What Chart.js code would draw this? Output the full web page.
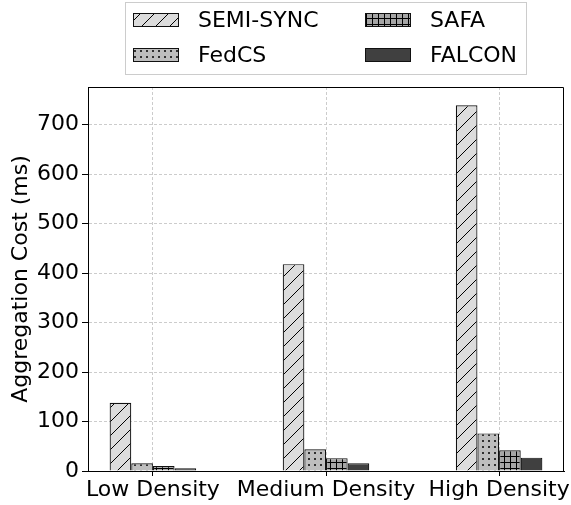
<!DOCTYPE html>
<html lang="en">
<head>
    <meta charset="UTF-8">
    <title>Aggregation Cost</title>
    <script src="https://cdn.jsdelivr.net/npm/chart.js"></script>
    <style>
        body { margin: 0; background: #fff; }
    </style>
</head>
<body>
    <canvas id="chart" width="571" height="505"></canvas>
    <script>
        const categories = ['Low Density', 'Medium Density', 'High Density'];
        const seriesNames = ['SEMI-SYNC', 'FedCS', 'SAFA', 'FALCON'];
        const semiSync = [138, 418, 739];
        const fedCS = [15.5, 44, 76];
        const safa = [10, 26, 42];
        const falcon = [5.5, 15.5, 27];
        const yTicks = [0, 100, 200, 300, 400, 500, 600, 700];

        const FONT = "'DejaVu Sans', sans-serif";
        const FSIZE = 22;

        function makePattern(kind, bg) {
            const size = kind === 'diag' ? 14 : 6;
            const c = document.createElement('canvas');
            c.width = size;
            c.height = size;
            const g = c.getContext('2d');
            g.fillStyle = bg;
            g.fillRect(0, 0, size, size);
            g.strokeStyle = '#000';
            g.fillStyle = '#000';
            g.lineWidth = 1;
            if (kind === 'diag') {
                g.beginPath();
                g.moveTo(0, size); g.lineTo(size, 0);
                g.moveTo(-2, 2); g.lineTo(2, -2);
                g.moveTo(size - 2, size + 2); g.lineTo(size + 2, size - 2);
                g.stroke();
            } else if (kind === 'dots') {
                g.beginPath();
                g.arc(3, 3, 1, 0, Math.PI * 2);
                g.fill();
            } else if (kind === 'grid') {
                g.beginPath();
                g.moveTo(0, 0.5); g.lineTo(size, 0.5);
                g.moveTo(0.5, 0); g.lineTo(0.5, size);
                g.stroke();
            }
            return document.getElementById('chart').getContext('2d').createPattern(c, 'repeat');
        }

        const fills = [
            makePattern('diag', '#dcdcdc'),
            makePattern('dots', '#bebebe'),
            makePattern('grid', '#a6a6a6'),
            '#404040'
        ];
        const allValues = [semiSync, fedCS, safa, falcon];

        const datasets = allValues.map((vals, k) => ({
            label: seriesNames[k],
            data: vals.map((v, i) => ({ x: i, y: v })),
            backgroundColor: fills[k],
            borderColor: '#111',
            borderWidth: 1.2,
            categoryPercentage: 0.5,
            barPercentage: 1.0
        }));

        // top and right spines
        const framePlugin = {
            id: 'frame',
            afterDatasetsDraw(chart) {
                const a = chart.chartArea;
                const ctx = chart.ctx;
                ctx.save();
                ctx.strokeStyle = '#000';
                ctx.lineWidth = 1;
                ctx.beginPath();
                ctx.moveTo(a.left, a.top + 0.5);
                ctx.lineTo(a.right - 0.5, a.top + 0.5);
                ctx.lineTo(a.right - 0.5, a.bottom);
                ctx.stroke();
                ctx.restore();
            }
        };

        // two-column legend, filled column by column
        const legendPlugin = {
            id: 'boxLegend',
            afterDraw(chart) {
                const ctx = chart.ctx;
                ctx.save();
                ctx.fillStyle = '#fff';
                ctx.strokeStyle = '#cccccc';
                ctx.lineWidth = 1;
                ctx.fillRect(125.5, 2.5, 401, 72);
                ctx.strokeRect(125.5, 2.5, 401, 72);
                const cols = [133, 365];
                const rows = [20, 55];
                chart.data.datasets.forEach((ds, k) => {
                    const x = cols[Math.floor(k / 2)];
                    const y = rows[k % 2];
                    ctx.fillStyle = ds.backgroundColor;
                    ctx.fillRect(x, y - 7, 46, 14);
                    ctx.strokeStyle = '#111';
                    ctx.strokeRect(x + 0.5, y - 6.5, 45, 13);
                    ctx.fillStyle = '#000';
                    ctx.font = FSIZE + 'px ' + FONT;
                    ctx.textBaseline = 'middle';
                    ctx.fillText(ds.label, x + 65, y + 1);
                });
                ctx.restore();
            }
        };

        new Chart(document.getElementById('chart'), {
            type: 'bar',
            data: { datasets: datasets },
            options: {
                responsive: false,
                animation: false,
                layout: { padding: { top: 87, right: 7, left: 0, bottom: 0 } },
                plugins: {
                    legend: { display: false },
                    tooltip: { enabled: false }
                },
                scales: {
                    x: {
                        type: 'linear',
                        min: -0.375,
                        max: 2.375,
                        offset: false,
                        afterBuildTicks(scale) {
                            scale.ticks = categories.map((c, i) => ({ value: i }));
                        },
                        afterFit(scale) {
                            scale.height = 34;
                            scale.paddingLeft = 0;
                            scale.paddingRight = 0;
                        },
                        ticks: {
                            callback: (v) => categories[v],
                            color: '#000',
                            font: { family: FONT, size: FSIZE },
                            padding: 1,
                            maxRotation: 0,
                            autoSkip: false
                        },
                        grid: {
                            offset: false,
                            color: '#cccccc',
                            lineWidth: 1,
                            tickColor: '#000',
                            tickLength: 5,
                            tickBorderDash: []
                        },
                        border: { display: true, color: '#000', width: 1, dash: [3, 2] }
                    },
                    y: {
                        min: 0,
                        max: 776,
                        afterBuildTicks(scale) {
                            scale.ticks = yTicks.map(v => ({ value: v }));
                        },
                        afterFit(scale) {
                            scale.width = 88;
                            scale.paddingTop = 0;
                            scale.paddingBottom = 0;
                        },
                        ticks: {
                            color: '#000',
                            font: { family: FONT, size: FSIZE },
                            padding: 3
                        },
                        grid: {
                            color: '#cccccc',
                            lineWidth: 1,
                            tickColor: '#000',
                            tickLength: 6,
                            tickBorderDash: []
                        },
                        border: { display: true, color: '#000', width: 1, dash: [3, 2] },
                        title: {
                            display: true,
                            text: 'Aggregation Cost (ms)',
                            color: '#000',
                            font: { family: FONT, size: FSIZE },
                            padding: { top: 8, bottom: 0 }
                        }
                    }
                }
            },
            plugins: [framePlugin, legendPlugin]
        });
    </script>
</body>
</html>
